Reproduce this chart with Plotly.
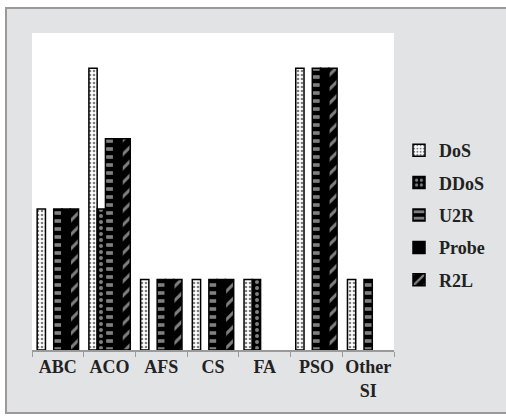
import plotly.graph_objects as go

# Swarm-intelligence methods and the attack classes they were applied to
categories = ["ABC", "ACO", "AFS", "CS", "FA", "PSO", "Other<br>SI"]
series_names = ["DoS", "DDoS", "U2R", "Probe", "R2L"]
dos = [2, 4, 1, 1, 1, 4, 1]
ddos = [0, 2, 0, 0, 1, 0, 0]
u2r = [2, 3, 1, 1, 0, 4, 1]
probe = [2, 3, 1, 1, 0, 4, 0]
r2l = [2, 3, 1, 1, 0, 4, 0]
values = [dos, ddos, u2r, probe, r2l]

# Monochrome fill patterns per attack class
patterns = [
    dict(shape=".", fgcolor="black", bgcolor="white", size=4, solidity=0.35),
    dict(shape=".", fgcolor="white", bgcolor="black", size=6, solidity=0.35),
    dict(shape="-", fgcolor="white", bgcolor="black", size=8, solidity=0.45),
    None,
    dict(shape="/", fgcolor="white", bgcolor="black", size=10, solidity=0.3),
]

FONT = "Liberation Serif"
W, H = 506, 416
L, R, T, B = 32, 112, 33, 66
pw, ph = W - L - R, H - T - B

fig = go.Figure()
for name, vals, pat in zip(series_names, values, patterns):
    # empty cells are left undrawn instead of showing a flat sliver
    shown = [v if v else None for v in vals]
    marker = dict(color="black", line=dict(color="black", width=1.5))
    if pat:
        marker["color"] = pat["bgcolor"]
        marker["pattern"] = pat
    fig.add_trace(go.Bar(x=categories, y=shown, name=name,
                         legendgroup=name, marker=marker))

def px_x(p):
    return (p - L) / pw

def px_y(p):
    return (H - B - p) / ph

fig.update_layout(
    width=W, height=H,
    margin=dict(l=L, r=R, t=T, b=B, autoexpand=False),
    paper_bgcolor="white",
    plot_bgcolor="white",
    barmode="group",
    bargap=0.2,
    bargroupgap=0,
    font=dict(family=FONT, color="black"),
    xaxis=dict(
        showgrid=False, showline=True, linecolor="#9a9a9a", linewidth=1.5,
        ticks="outside", tickson="boundaries", ticklen=5, tickcolor="#9a9a9a",
        tickangle=0, automargin=False,
        tickfont=dict(family=FONT, size=18, color="#222", weight="bold"),
        fixedrange=True,
    ),
    yaxis=dict(range=[0, 4.5], visible=False, showgrid=False, zeroline=False),
    legend=dict(
        x=px_x(399), y=px_y(132), xanchor="left", yanchor="top",
        bgcolor="rgba(0,0,0,0)",
        font=dict(family=FONT, size=18, color="#222", weight="bold"),
        traceorder="grouped", tracegroupgap=6,
    ),
    shapes=[
        # grey chart frame
        dict(type="rect", xref="paper", yref="paper", layer="below",
             x0=px_x(6), x1=px_x(520), y0=px_y(413), y1=px_y(8),
             fillcolor="#e2e3e5", line=dict(color="#9a9a9a", width=2)),
        # white plotting area
        dict(type="rect", xref="paper", yref="paper", layer="below",
             x0=0, x1=1, y0=0, y1=1,
             fillcolor="white", line=dict(width=0)),
    ],
)

fig.write_html("out.html")
